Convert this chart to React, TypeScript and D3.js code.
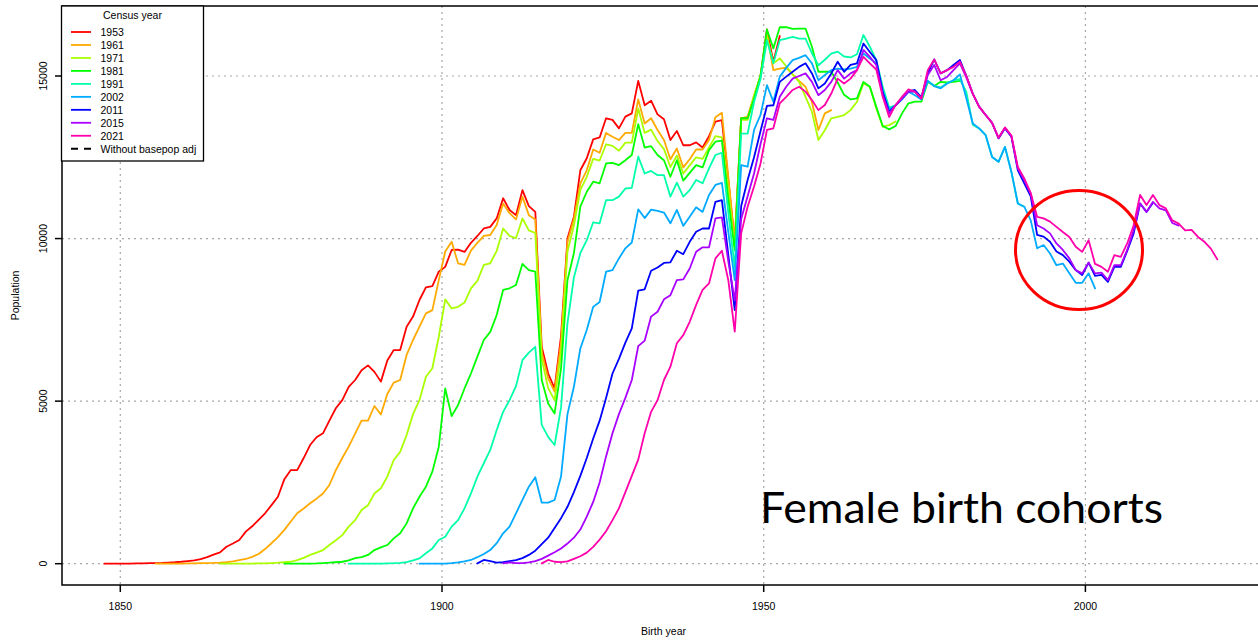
import React from "react";
import * as d3 from "d3";

// ---------- data ----------
const censusYears = ["1953", "1961", "1971", "1981", "1991", "2002", "2011", "2015", "2021"];
const seriesColors = ["#FF0000", "#FFAA00", "#AAFF00", "#00FF00", "#00FFAA", "#00AAFF", "#0000FF", "#AA00FF", "#FF00AA"];
const firstBirthYear = [1847, 1855, 1865, 1875, 1885, 1896, 1905, 1909, 1915];

const pop1953 = [
  0, 0, 0, 5, 5, 10, 10, 15, 20, 25,
  35, 45, 60, 80, 100, 140, 200, 280, 350, 520,
  620, 730, 985, 1150, 1350, 1550, 1800, 2060, 2600, 2880,
  2880, 3250, 3650, 3890, 4010, 4400, 4780, 5030, 5440, 5650,
  5950, 6100, 5900, 5600, 6250, 6570, 6570, 7290, 7600, 8110,
  8500, 8540, 8980, 9130, 9650, 9660, 9590, 9870, 10080, 10310,
  10360, 10620, 11240, 10880, 10720, 11490, 11000, 10820, 6670, 5850,
  5390, 7000, 10000, 10670, 12100, 12470, 13050, 13110, 13700, 13650,
  13390, 13750, 13850, 14850, 14100, 14240, 13820, 13670, 13030, 13310,
  12870, 12870, 12960, 12800, 13150, 13600, 13640, 11800, 9900, 13700,
  13700, 14350, 14980, 16430, 15440, 16230,
];
const pop1961 = [
  0, 0, 0, 5, 5, 10, 10, 15, 20, 25,
  35, 50, 70, 110, 145, 210, 300, 450, 630, 820,
  1040, 1300, 1550, 1700, 1860, 2000, 2160, 2420, 2880, 3250,
  3600, 4000, 4400, 4400, 4850, 4590, 5220, 5570, 5650, 6420,
  6880, 7290, 7700, 7800, 8720, 9600, 9900, 9240, 9190, 9630,
  9870, 10080, 10110, 10420, 11080, 10780, 10590, 11290, 10720, 10590,
  6500, 5700, 5290, 6800, 9900, 10600, 11700, 12100, 12740, 12640,
  13250, 13130, 13030, 13250, 13250, 14280, 13540, 13700, 13340, 13030,
  12440, 12770, 12190, 12440, 12740, 12740, 13030, 13730, 13870, 11900,
  9900, 13700, 13750, 14400, 15000, 16300, 15180, 15230, 15260, 15050,
  14850, 14670, 14200, 13340, 13850, 13950,
];
const pop1971 = [
  0, 0, 0, 0, 5, 5, 10, 10, 20, 30,
  45, 60, 110, 180, 270, 340, 420, 575, 720, 880,
  1140, 1340, 1650, 1800, 2160, 2320, 2680, 3190, 3440, 3960,
  4600, 5030, 5750, 6010, 6980, 8130, 7850, 7900, 8030, 8470,
  8700, 9190, 9240, 9620, 10310, 10080, 10010, 10620, 10250, 10170,
  6300, 5400, 5030, 6500, 9600, 10400, 11500, 11900, 12450, 12400,
  12900, 12850, 12700, 12950, 12950, 14000, 13250, 13350, 13000, 12750,
  12200, 12550, 12000, 12250, 12500, 12450, 12800, 13150, 13110, 11500,
  9700, 13650, 13650, 14400, 15000, 16200, 15390, 15540, 15300, 15050,
  14820, 14360, 13900, 13030, 13330, 13700, 13740, 13800, 13950, 14210,
  14770, 14670, 14000, 13440, 13490, 13600,
];
const pop1981 = [
  0, 0, 0, 0, 5, 10, 20, 30, 45, 60,
  100, 170, 200, 270, 420, 500, 575, 780, 935, 1240,
  1700, 2060, 2370, 2830, 3600, 5390, 4540, 4880, 5390, 5850,
  6370, 6880, 7130, 7650, 8420, 8470, 8570, 9220, 9030, 8980,
  5650, 4930, 4620, 6000, 8720, 9550, 10980, 11440, 11750, 11700,
  12310, 12330, 12260, 12410, 12570, 13520, 12800, 12840, 12570, 12410,
  11900, 12410, 11780, 12020, 12260, 12190, 12720, 12980, 13010, 11200,
  9640, 13700, 13700, 14300, 15000, 16430, 15850, 16500, 16500, 16450,
  16460, 16460, 15900, 15130, 15130, 15130, 14800, 14420, 14280, 14310,
  14820, 14670, 14050, 13460, 13360, 13460, 13850, 14160, 14210, 14210,
  14820, 14690, 14820, 14800, 14820, 14850,
];
const pop1991 = [
  0, 0, 0, 0, 5, 5, 10, 15, 25, 50,
  100, 165, 320, 470, 730, 830, 1140, 1340, 1700, 2160,
  2680, 3090, 3500, 4110, 4670, 5030, 5460, 6260, 6490, 6670,
  4270, 3900, 3650, 4800, 7400, 8800, 9550, 9950, 10500, 10470,
  11180, 11180, 11290, 11540, 11560, 12520, 12000, 12080, 11950, 11950,
  11290, 11720, 11290, 11490, 11800, 11700, 12160, 12570, 12640, 10800,
  9100, 13230, 13230, 14200, 14900, 16100, 15390, 16100, 16150, 16200,
  16150, 16150, 15700, 15330, 15500, 15690, 15750, 15600, 15570, 15670,
  16260, 15900, 15490, 14670, 14030, 14100, 14310, 14520, 14520, 14300,
  14850, 14700, 14650, 14780, 14870, 14900, 14500, 13500, 13380, 13180,
  12510, 12360, 12820, 12050, 11080, 10980,
];
const pop2002 = [
  0, 0, 0, 0, 5, 15, 40, 70, 115, 200,
  300, 420, 630, 935, 1140, 1550, 1960, 2370, 2660, 1880,
  1880, 1960, 2680, 4600, 5440, 6620, 7190, 7900, 8050, 8980,
  9030, 9390, 9700, 9880, 10900, 10630, 10890, 10850, 10800, 10470,
  10880, 10390, 10670, 10960, 10820, 11340, 11650, 11710, 10200, 8720,
  12260, 12210, 13340, 13800, 14720, 14210, 14980, 15250, 15490, 15560,
  15640, 15390, 14870, 15030, 15180, 15230, 15200, 15230, 15280, 15690,
  15540, 15390, 14520, 13970, 14100, 14280, 14520, 14410, 14280, 14850,
  14690, 14620, 14770, 14870, 15050, 14310, 13540, 13390, 13180, 12510,
  12360, 12820, 12050, 11080, 10980, 10560, 9700, 9800, 9540, 9180,
  9230, 8930, 8640, 8640, 8930, 8470,
];
const pop2011 = [
  10, 115, 80, 30, 50, 80, 110, 170, 270, 400,
  600, 800, 1100, 1400, 1750, 2200, 2700, 3250, 3850, 4400,
  5100, 5850, 6300, 6800, 7240, 8400, 8440, 9010, 9110, 9250,
  9270, 9625, 9520, 9900, 10210, 10310, 10310, 11130, 11180, 9500,
  7800, 11000, 11800, 12500, 13300, 14080, 14100, 14820, 14980, 15130,
  15280, 15390, 15080, 14620, 14770, 15080, 15440, 15130, 15340, 15390,
  16000, 15740, 15490, 14510, 13900, 14100, 14310, 14520, 14570, 14340,
  15080, 15510, 15080, 15180, 15340, 15490, 15000, 14450, 14050, 13800,
  13560, 13080, 13390, 13130, 12100, 11700, 11300, 10110, 10060, 9900,
  9600, 9490, 9290, 9030, 8880, 9260, 8850, 8880, 8670, 9130,
  9130, 9620, 10160, 11080, 10820, 11100,
];
const pop2015 = [
  10, 40, 15, 20, 40, 80, 150, 250, 350, 470,
  620, 800, 1050, 1450, 1900, 2500, 3300, 4010, 4600, 5100,
  5650, 6690, 6860, 7600, 7750, 8130, 8260, 8720, 8745, 9080,
  9595, 9730, 9730, 10620, 10650, 9300, 8100, 10600, 11300, 12000,
  12900, 13700, 13650, 14360, 14670, 14920, 15000, 15080, 14820, 14410,
  14570, 14820, 15180, 14920, 15080, 15180, 15800, 15590, 15340, 14410,
  13850, 14100, 14310, 14520, 14520, 14300, 15030, 15340, 14870, 14970,
  15180, 15390, 14950, 14450, 14050, 13800, 13560, 13100, 13400, 13150,
  12160, 11800, 11390, 10410, 10310, 10160, 9850, 9650, 9390, 9030,
  8930, 9260, 8930, 8950, 8720, 9180, 9180, 9650, 10260, 11080,
  10820, 11130, 10930, 10870, 10480, 10400,
];
const pop2021 = [
  10, 115, 60, 50, 70, 150, 230, 340, 520, 740,
  1000, 1340, 1700, 2200, 2700, 3200, 4010, 4670, 5030, 5650,
  6060, 6780, 7030, 7440, 7960, 8420, 8620, 9390, 9625, 8720,
  7135, 10160, 10980, 11600, 12300, 13340, 13390, 14160, 14360, 14570,
  14670, 14520, 14260, 13950, 14110, 14460, 14920, 14770, 14920, 15180,
  15590, 15390, 15200, 14360, 13740, 14110, 14360, 14590, 14520, 14310,
  15180, 15510, 15080, 15180, 15280, 15440, 15000, 14450, 14050, 13800,
  13560, 13100, 13420, 13170, 12200, 11850, 11400, 10670, 10620, 10520,
  10360, 10200, 10050, 9750, 9590, 9950, 9220, 9130, 8980, 9490,
  9440, 9850, 10410, 11340, 11030, 11340, 11030, 10930, 10560, 10460,
  10250, 10270, 10050, 9900, 9690, 9360,
];

const seriesValues = [pop1953, pop1961, pop1971, pop1981, pop1991, pop2002, pop2011, pop2015, pop2021];
const xTicks = [1850, 1900, 1950, 2000];
const yTicks = [0, 5000, 10000, 15000];
const legendExtra = "Without basepop adj";
const legendTitle = "Census year";
const annotation = "Female birth cohorts";

// ---------- layout ----------
const W = 1258;
const H = 640;
const P = { left: 62, right: 1265, top: 6, bottom: 585 };
const FONT = "'Liberation Sans', Arial, Helvetica, sans-serif";

export default function App() {
  const x = d3.scaleLinear().domain([1850, 2000]).range([120.3, 1085.4]);
  const y = d3.scaleLinear().domain([0, 15000]).range([563.7, 76]);

  const series = seriesValues.map((vals, i) =>
    vals.map((v, k) => ({ year: firstBirthYear[i] + k, value: v }))
  );

  // cohorts plotted at mid-year
  const line = d3
    .line<{ year: number; value: number }>()
    .x((d) => x(d.year + 0.5))
    .y((d) => y(d.value));

  const legendY0 = 32;
  const legendStep = 12.97;

  return (
    <svg
      width={W}
      height={H}
      style={{ position: "absolute", left: 0, top: 0, background: "#fff" }}
      fontFamily={FONT}
    >
      <defs>
        <clipPath id="plotClip">
          <rect x={P.left} y={P.top} width={P.right - P.left} height={P.bottom - P.top} />
        </clipPath>
      </defs>
      <rect x={0} y={0} width={W} height={H} fill="#fff" />

      {/* grid */}
      <g stroke="#a8a8a8" strokeWidth={1.2} strokeDasharray="2,4">
        {xTicks.map((t) => (
          <line key={"gx" + t} x1={x(t)} x2={x(t)} y1={P.top} y2={P.bottom} />
        ))}
        {yTicks.map((t) => (
          <line key={"gy" + t} x1={P.left} x2={P.right} y1={y(t)} y2={y(t)} />
        ))}
      </g>

      {/* series */}
      <g clipPath="url(#plotClip)" fill="none" strokeWidth={1.8} strokeLinejoin="round" strokeLinecap="round">
        {series.map((s, i) => (
          <path key={censusYears[i]} d={line(s) || ""} stroke={seriesColors[i]} />
        ))}
      </g>

      {/* box */}
      <rect
        x={P.left}
        y={P.top}
        width={P.right - P.left}
        height={P.bottom - P.top}
        fill="none"
        stroke="#000"
        strokeWidth={1.5}
      />

      {/* x axis */}
      <g>
        {xTicks.map((t) => (
          <g key={"xt" + t}>
            <line x1={x(t)} x2={x(t)} y1={P.bottom} y2={P.bottom + 7} stroke="#000" strokeWidth={1.5} />
            <text x={x(t)} y={610} fontSize={10.5} textAnchor="middle" fill="#000">
              {t}
            </text>
          </g>
        ))}
        <text x={(P.left + P.right) / 2} y={635} fontSize={10.5} textAnchor="middle" fill="#000">
          Birth year
        </text>
      </g>

      {/* y axis */}
      <g>
        {yTicks.map((t) => (
          <g key={"yt" + t}>
            <line x1={P.left - 7} x2={P.left} y1={y(t)} y2={y(t)} stroke="#000" strokeWidth={1.5} />
            <text
              transform={`translate(46.5, ${y(t)}) rotate(-90)`}
              fontSize={10.5}
              textAnchor="middle"
              fill="#000"
            >
              {t}
            </text>
          </g>
        ))}
        <text
          transform={`translate(19, ${(P.top + P.bottom) / 2}) rotate(-90)`}
          fontSize={10.5}
          textAnchor="middle"
          fill="#000"
        >
          Population
        </text>
      </g>

      {/* legend */}
      <g>
        <rect x={61.5} y={6} width={142} height={155} fill="#fff" stroke="#000" strokeWidth={1.3} />
        <text x={132.5} y={19} fontSize={10.5} textAnchor="middle" fill="#000">
          {legendTitle}
        </text>
        {censusYears.map((c, i) => {
          const ly = legendY0 + i * legendStep;
          return (
            <g key={"lg" + c}>
              <line x1={71} x2={91} y1={ly} y2={ly} stroke={seriesColors[i]} strokeWidth={1.8} />
              <text x={100.5} y={ly + 3.8} fontSize={10.5} fill="#000">
                {c}
              </text>
            </g>
          );
        })}
        {(() => {
          const ly = legendY0 + censusYears.length * legendStep;
          return (
            <g>
              <line x1={71} x2={91} y1={ly} y2={ly} stroke="#000" strokeWidth={1.8} strokeDasharray="7,6" />
              <text x={100.5} y={ly + 3.8} fontSize={10.5} fill="#000">
                {legendExtra}
              </text>
            </g>
          );
        })()}
      </g>

      {/* annotations */}
      <text
        x={760}
        y={523}
        fontSize={42}
        fontFamily="Lato, 'Open Sans', sans-serif"
        textLength={403}
        lengthAdjust="spacingAndGlyphs"
        fill="#000"
      >
        {annotation}
      </text>
      <ellipse cx={1079} cy={250} rx={63.5} ry={59.5} fill="none" stroke="#FF0000" strokeWidth={3} />
    </svg>
  );
}
